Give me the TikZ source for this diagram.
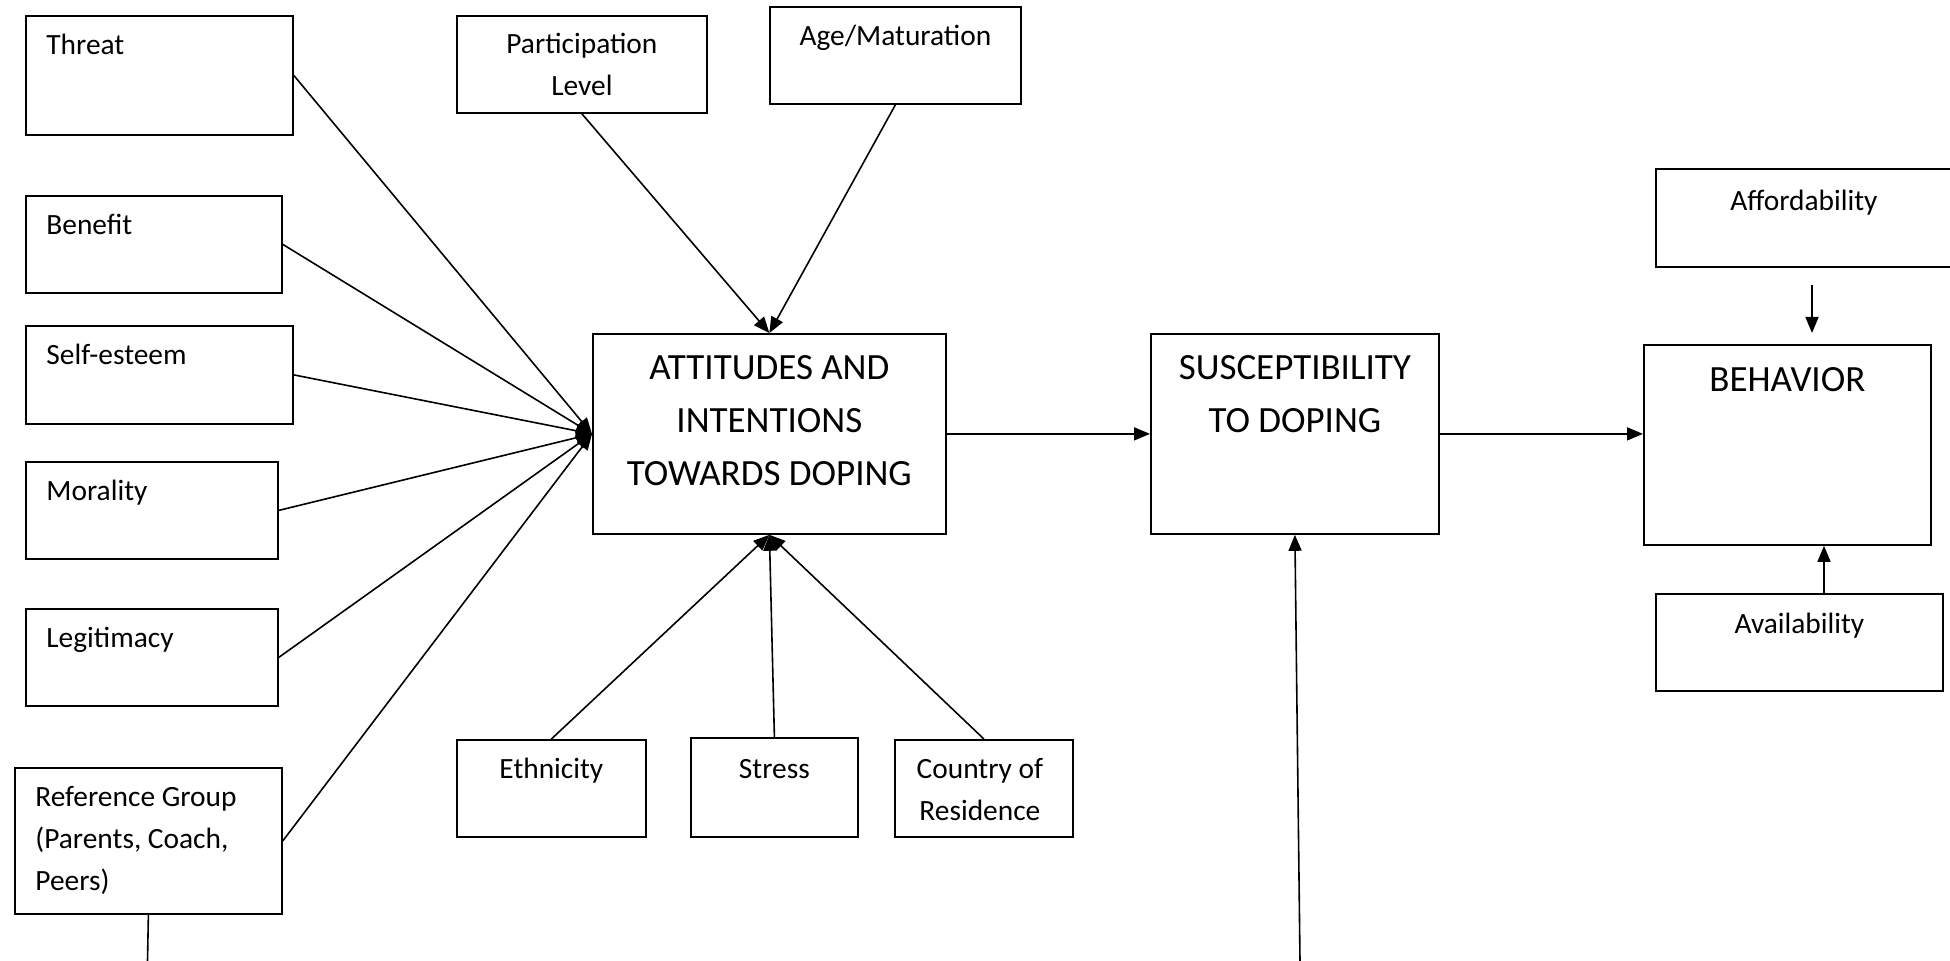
\documentclass[tikz,border=0pt]{standalone}
\usepackage{fontspec}
\setmainfont{Carlito}
\usetikzlibrary{positioning, arrows.meta, calc}

\begin{document}
\begin{tikzpicture}[x=0.5pt, y=-0.5pt,
    box/.style={draw, line width=0.9pt, inner sep=0pt, anchor=north west},
    small/.style={font=\fontsize{14.7}{21}\selectfont, inner sep=0pt, align=center},
    smallleft/.style={small, align=left, anchor=base west},
    big/.style={font=\fontsize{18.5}{26.5}\selectfont, inner sep=0pt, align=center},
    link/.style={line width=0.8pt},
    arr/.style={link, -{Triangle[length=8pt, width=6.5pt]}}]
  \useasboundingbox (0,0) rectangle (1950,961);
  % determinants on the left
  \node[box, minimum width=133.5pt, minimum height=59.5pt] (threat)  at (25,15)  {};
  \node[box, minimum width=128pt,   minimum height=48.5pt] (benefit) at (25,195) {};
  \node[box, minimum width=133.5pt, minimum height=49pt]   (selfest) at (25,325) {};
  \node[box, minimum width=126pt,   minimum height=48.5pt] (moral)   at (25,461) {};
  \node[box, minimum width=126pt,   minimum height=48.5pt] (legit)   at (25,608) {};
  \node[box, minimum width=133.5pt, minimum height=73pt]   (refgrp)  at (14,767) {};
  \node[smallleft] (threatTxt)  at ([xshift=10.5pt, yshift=-19.75pt]threat.north west)  {Threat};
  \node[smallleft] (benefitTxt) at ([xshift=10.5pt, yshift=-19.75pt]benefit.north west) {Benefit};
  \node[smallleft] (selfestTxt) at ([xshift=10.5pt, yshift=-19.75pt]selfest.north west) {Self-esteem};
  \node[smallleft] (moralTxt)   at ([xshift=10.5pt, yshift=-19.75pt]moral.north west)   {Morality};
  \node[smallleft] (legitTxt)   at ([xshift=10.5pt, yshift=-19.75pt]legit.north west)   {Legitimacy};
  % base of a multi-line node sits on its last line
  \node[smallleft] (refgrpTxt)  at ([xshift=10.5pt, yshift=-61.75pt]refgrp.north west)
    {Reference Group\\(Parents, Coach,\\Peers)};
  % determinants above and below
  \node[box, minimum width=125pt,   minimum height=48.5pt] (partic)  at (456,15)  {};
  \node[box, minimum width=125.5pt, minimum height=48.5pt] (age)     at (769,6)   {};
  \node[box, minimum width=94.5pt,  minimum height=48.5pt] (ethn)    at (456,739) {};
  \node[box, minimum width=83.5pt,  minimum height=49.5pt] (stress)  at (690,737) {};
  \node[box, minimum width=89pt,    minimum height=48.5pt] (country) at (894,739) {};
  \node[small, anchor=base] (particTxt)  at ([yshift=-40.5pt]partic.north) {Participation\\Level};
  \node[small, anchor=base] (ageTxt)     at ([yshift=-19.75pt]age.north)   {Age/Maturation};
  \node[small, anchor=base] (ethnTxt)    at ([yshift=-19.75pt]ethn.north)  {Ethnicity};
  \node[small, anchor=base] (stressTxt)  at ([yshift=-21pt]stress.north)   {Stress};
  \node[small, anchor=base] (countryTxt) at ([xshift=-2pt, yshift=-40.75pt]country.north) {Country of\\Residence};
  % main chain
  \node[box, minimum width=176.5pt, minimum height=100pt] (att)   at (592,333)  {};
  \node[box, minimum width=144pt,   minimum height=100pt] (susc)  at (1150,333) {};
  \node[box, minimum width=143.5pt, minimum height=100pt] (behav) at (1643,344) {};
  \node[big, anchor=base] (attTxt)   at ([yshift=-76.5pt]att.north)   {ATTITUDES AND\\INTENTIONS\\TOWARDS DOPING};
  \node[big, anchor=base] (suscTxt)  at ([yshift=-50pt]susc.north)  {SUSCEPTIBILITY\\TO DOPING};
  \node[big, anchor=base] (behavTxt) at ([yshift=-24pt]behav.north) {BEHAVIOR};
  % moderators of behaviour
  \node[box, minimum width=148pt,   minimum height=49pt]   (afford) at (1655,168) {};
  \node[box, minimum width=143.5pt, minimum height=48.5pt] (avail)  at (1655,593) {};
  \node[small, anchor=base] (affordTxt) at ([yshift=-21.25pt]afford.north) {Affordability};
  \node[small, anchor=base] (availTxt)  at ([yshift=-20.25pt]avail.north) {Availability};
  % connectors
  \foreach \src in {threat, benefit, selfest, moral, legit, refgrp}
    \draw[arr] (\src.east) -- (att.west);
  \foreach \src in {partic, age}
    \draw[arr] (\src.south) -- (att.north);
  \foreach \src in {ethn, stress, country}
    \draw[arr] (\src.north) -- (att.south);
  \draw[arr] (att.east) -- (susc.west);
  \draw[arr] (susc.east) -- (susc.east -| behav.west);
  \coordinate (suscIn) at (1300,961);
  \draw[arr] (suscIn) -- (susc.south);
  \coordinate (refOut) at (147.5,961);
  \draw[link] (refgrp.south) -- (refOut);
  \coordinate (affTail) at (1812,285);
  \coordinate (affTip)  at (1812,333);
  \draw[arr] (affTail) -- (affTip);
  \coordinate (availTop) at (1824,593);
  \draw[arr] (availTop) -- (availTop |- behav.south);
\end{tikzpicture}
\end{document}
